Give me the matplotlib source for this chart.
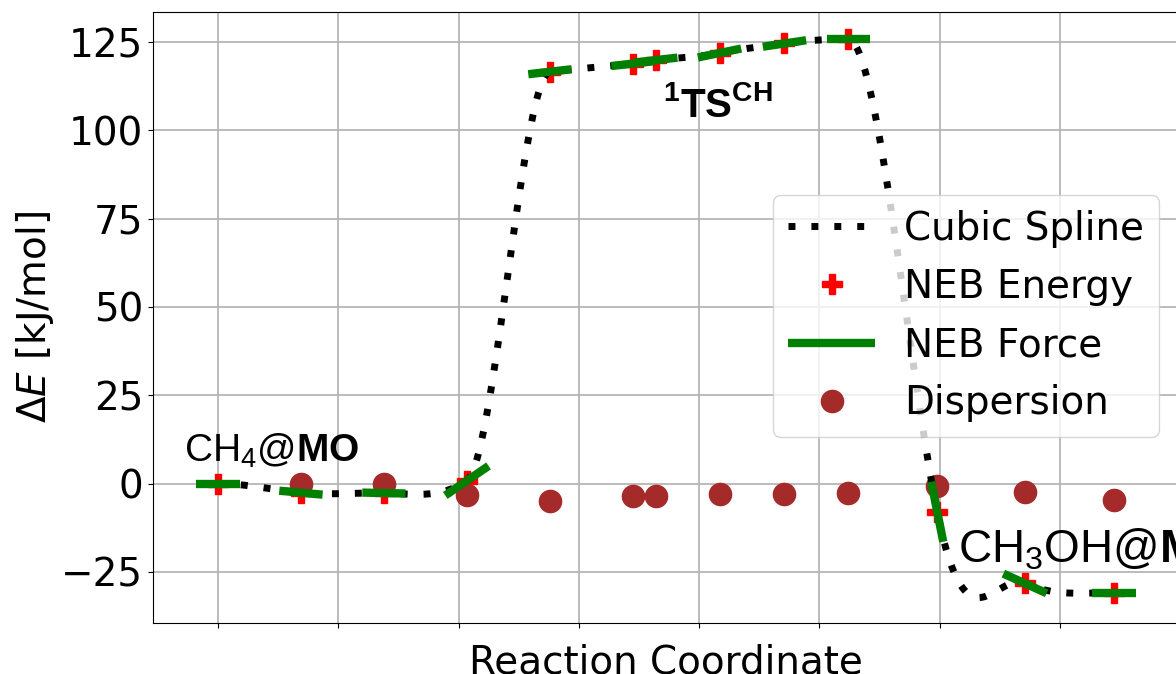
import numpy as np
import matplotlib
matplotlib.use("Agg")
import matplotlib.pyplot as plt

# NEB images along the path
image_s = [0.0, 0.69, 1.38, 2.07, 2.76, 3.45, 3.64, 4.17, 4.71, 5.24, 5.98, 6.71, 7.45]
neb_energy = [0.0, -2.6, -2.7, 0.8, 116.6, 118.9, 119.9, 121.9, 124.6, 125.8, -8.0, -28.3, -30.9]
# slope dE/ds from the NEB force and half width of each tangent line
force_slope = [0.0, -3.1, -0.7, 23.2, 3.9, 3.8, 3.8, 7.0, 5.1, 0.0, -170.0, -15.4, 0.0]
force_dx = [0.18, 0.18, 0.18, 0.18, 0.18, 0.18, 0.18, 0.18, 0.18, 0.18, 0.05, 0.18, 0.18]

# dispersion energy of images 1..12
disp_s = image_s[1:]
dispersion = [0.0, 0.0, -3.3, -4.9, -3.5, -3.4, -3.1, -3.0, -2.8, -0.7, -2.3, -4.7]

plt.rcParams['mathtext.fontset'] = 'custom'
plt.rcParams['mathtext.rm'] = 'Liberation Sans'
plt.rcParams['mathtext.it'] = 'Liberation Sans:italic'
plt.rcParams['mathtext.bf'] = 'Liberation Sans:bold'


def cubic_spline(s, e, m, n=60):
    # piecewise cubic through energies with force slopes at each image
    xs, ys = [], []
    for i in range(len(s) - 1):
        h = s[i + 1] - s[i]
        t = np.linspace(0, 1, n)
        h00 = 2 * t**3 - 3 * t**2 + 1
        h10 = t**3 - 2 * t**2 + t
        h01 = -2 * t**3 + 3 * t**2
        h11 = t**3 - t**2
        xs.append(s[i] + t * h)
        ys.append(h00 * e[i] + h10 * h * m[i] + h01 * e[i + 1] + h11 * h * m[i + 1])
    return np.concatenate(xs), np.concatenate(ys)


fig = plt.figure(figsize=(11.76, 6.74), dpi=100)
ax = fig.add_axes([153 / 1176, 51 / 674, 1026 / 1176, 611.3 / 674])

p_energy, = ax.plot(image_s, neb_energy, 'P', color='red', ms=15, zorder=2, label="NEB Energy")
p_disp, = ax.plot(disp_s, dispersion, 'o', color='brown', ms=16, zorder=3, label="Dispersion")

sx, sy = cubic_spline(image_s, neb_energy, force_slope)
p_spline, = ax.plot(sx, sy, color='black', lw=5, linestyle=(0, (1, 2.3)),
                    dash_capstyle='butt', zorder=4, label="Cubic Spline")

for s, e, m, dx in zip(image_s, neb_energy, force_slope, force_dx):
    x = np.array([s - dx, s + dx])
    p_force, = ax.plot(x, e + m * (x - s), color='green', lw=6, zorder=5,
                       solid_capstyle='butt', label="NEB Force")

ax.set_xlim(-0.54, 7.99)
ax.set_ylim(-39.5, 133.6)
ax.set_xticks(range(0, 8))
ax.set_xticklabels([])
ax.set_yticks([-25, 0, 25, 50, 75, 100, 125])
ax.tick_params(labelsize=28)
ax.grid(True, color='#b0b0b0', lw=1.2)
ax.set_axisbelow(True)

ax.set_xlabel("Reaction Coordinate", fontsize=28, labelpad=8)
ax.set_ylabel(r"$\Delta E$ [kJ/mol]", fontsize=28, math_fontfamily='dejavusans')

ax.text(-0.28, 6.1, r"CH$_4$@$\mathbf{MO}$", fontsize=28, family='Liberation Sans',
        ha='left', va='baseline', zorder=6)
ax.text(4.16, 103.8, r"$^{\mathbf{1}}\mathbf{TS}^{\mathbf{CH}}$", fontsize=29,
        family='Liberation Sans', ha='center', va='baseline', zorder=6)
ax.text(6.15, -22.4, r"CH$_3$OH@$\mathbf{MO}$", fontsize=33, family='Liberation Sans',
        ha='left', va='baseline', zorder=6, clip_on=False)

ax.legend(handles=[p_spline, p_energy, p_force, p_disp], fontsize=28,
          loc='upper left', bbox_to_anchor=(773 / 1176, 1 - 195 / 674),
          bbox_transform=fig.transFigure, borderpad=0.38, labelspacing=0.52,
          handlelength=2.25, handletextpad=0.75, borderaxespad=0)

fig.savefig("out.png", dpi=100)
